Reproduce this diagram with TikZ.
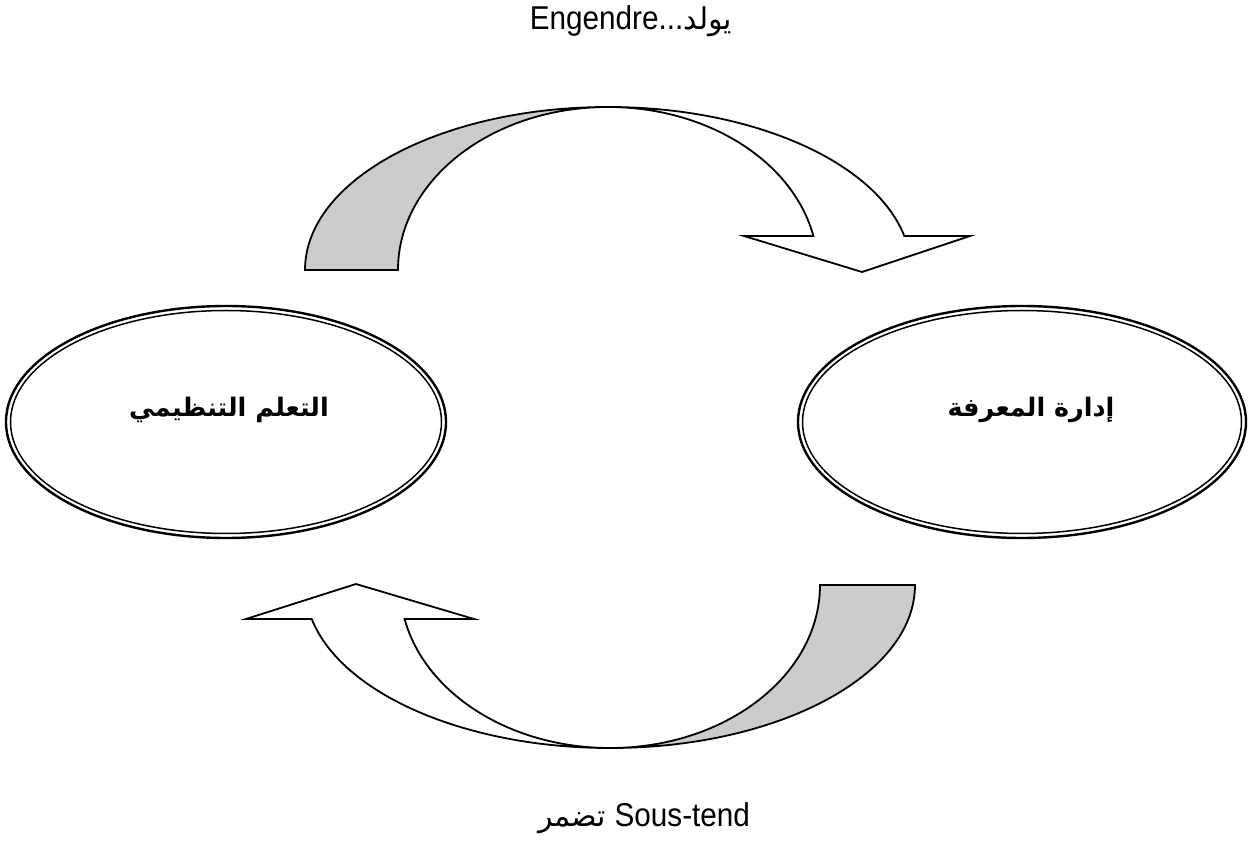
\documentclass[tikz,border=0pt]{standalone}
\usepackage{fontspec}
\setmainfont{Liberation Sans}
\newfontfamily\latinlbl[FakeStretch=0.9]{Liberation Sans}
\newfontfamily\arabicfont[Script=Arabic]{DejaVu Sans}
\TeXXeTstate=1
\usetikzlibrary{shapes.geometric}
\tikzset{
  bandback/.style={draw=black, line width=1.8pt, fill=black!20, line join=miter},
  bandfront/.style={draw=black, line width=1.8pt, fill=white, line join=miter},
  ovalbox/.style={ellipse, draw=black, line width=2.4pt, inner sep=0pt},
  ovalin/.style={draw=black, line width=1.5pt},
  arlabel/.style={font=\fontsize{25.5}{30}\selectfont\arabicfont\bfseries, inner sep=0pt},
  lnlabel/.style={font=\fontsize{33}{38}\selectfont\latinlbl, inner sep=0pt}
}
\newcommand{\arsmall}[1]{{\fontsize{30}{36}\selectfont\arabicfont\beginR #1\endR}}
\begin{document}
\begin{tikzpicture}[x=1pt,y=1pt]
\useasboundingbox (0,0) rectangle (1251,855);
% ellipses
\node[ovalbox, minimum width=440pt, minimum height=232pt] (lrn) at (226,433) {};
\draw[ovalin] (lrn.center) ellipse[x radius=215.5, y radius=111.5];
\node[ovalbox, minimum width=448pt, minimum height=232pt] (km) at (1022,433) {};
\draw[ovalin] (km.center) ellipse[x radius=219.5, y radius=111.5];
\node[arlabel] (lrnt) at (229,445) {\beginR التعلم التنظيمي\endR};
\node[arlabel] (kmt) at (1031,445) {\beginR إدارة المعرفة\endR};
% top curved arrow
\path[bandback] (305,585) arc[start angle=180, end angle=90, x radius=303, y radius=163]
  arc[start angle=90, end angle=180, x radius=210, y radius=163] -- cycle;
\path[bandfront] (608,748) arc[start angle=90, end angle=12.04, x radius=303, y radius=163]
  -- (970,619) -- (862,583) -- (744,619) -- (813.4,619)
  arc[start angle=12.04, end angle=90, x radius=210, y radius=163] -- cycle;
% bottom curved arrow
\path[bandback] (915,270) arc[start angle=0, end angle=-90, x radius=305, y radius=163]
  arc[start angle=270, end angle=360, x radius=210, y radius=163] -- cycle;
\path[bandfront] (610,107) arc[start angle=270, end angle=192.04, x radius=305, y radius=163]
  -- (246,236) -- (356,271) -- (474,236) -- (404.6,236)
  arc[start angle=192.04, end angle=270, x radius=210, y radius=163] -- cycle;
% labels
\node[lnlabel] (eng) at (631,834) {Engendre...\arsmall{يولد}};
\node[lnlabel] (sous) at (644,37) {\arsmall{تضمر} Sous-tend};
\end{tikzpicture}
\end{document}
